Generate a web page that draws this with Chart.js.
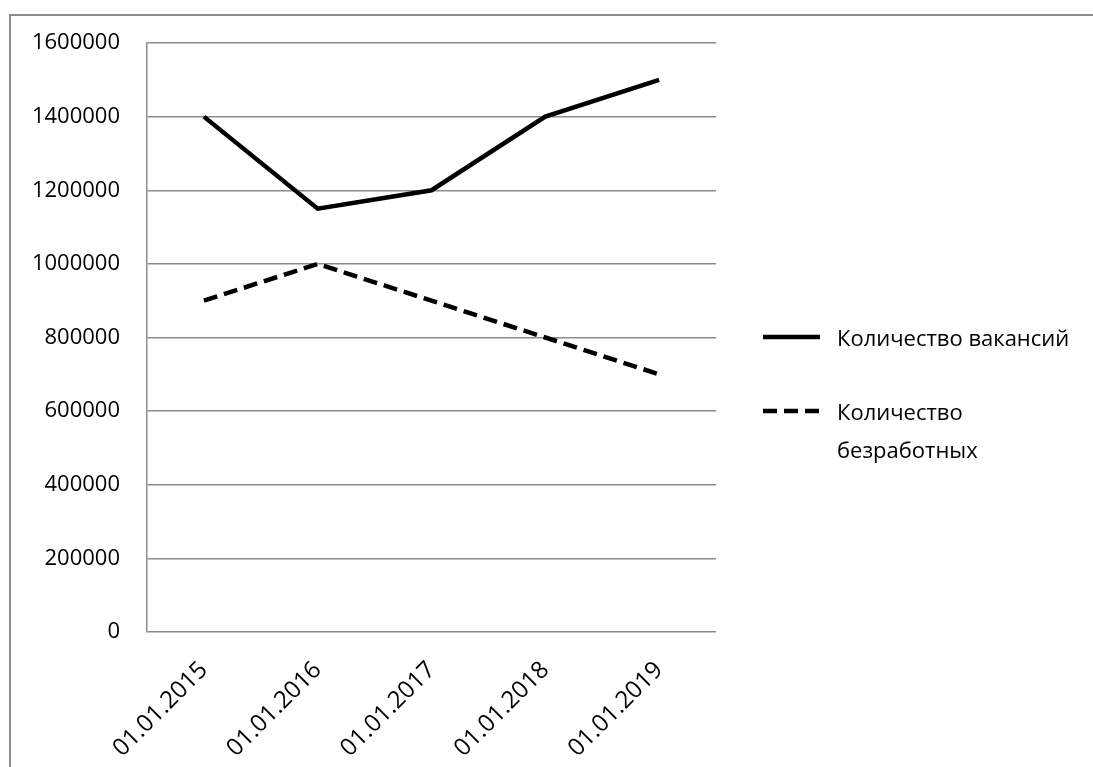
<!DOCTYPE html>
<html>
<head>
<meta charset="utf-8">
<script src="https://cdn.jsdelivr.net/npm/chart.js@4"></script>
<style>
  html, body { margin: 0; padding: 0; background: #fff; overflow: hidden; }
  #wrap { position: relative; width: 1093px; height: 767px; }
  #frame {
    position: absolute; left: 9px; top: 14px; width: 1200px; height: 900px;
    border: 2px solid #8c8c8c; box-sizing: border-box;
  }
  #chart { position: absolute; left: 0; top: 0; }
  #legend {
    position: absolute; left: 763px; top: 0;
    font-family: "Open Sans", sans-serif; font-size: 22px; font-weight: 500; color: #000;
  }
  .item { position: absolute; left: 0; display: flex; align-items: flex-start; }
  .item svg { flex: none; margin-right: 17px; }
  .item span { display: block; width: 245px; line-height: 38px; }
</style>
</head>
<body>
<div id="wrap">
  <div id="frame"></div>
  <canvas id="chart" width="1093" height="767"></canvas>
  <div id="legend"></div>
</div>
<script>
/* =========================
   DATA
========================= */
const categories = ["01.01.2015", "01.01.2016", "01.01.2017", "01.01.2018", "01.01.2019"];
const vacancies = [1400000, 1150000, 1200000, 1400000, 1500000];
const unemployed = [900000, 1000000, 900000, 800000, 700000];
const seriesNames = ["Количество вакансий", "Количество безработных"];

const FONT = "'Open Sans', sans-serif";
const GRID = "#8c8c8c";
const DASH = [14, 7];

/* =========================
   CHART
========================= */
new Chart(document.getElementById("chart"), {
  type: "line",
  data: {
    labels: categories,
    datasets: [
      {
        label: seriesNames[0],
        data: vacancies,
        borderColor: "#000",
        borderWidth: 4.5,
        pointRadius: 0,
        tension: 0,
      },
      {
        label: seriesNames[1],
        data: unemployed,
        borderColor: "#000",
        borderWidth: 4.5,
        borderDash: DASH,
        pointRadius: 0,
        tension: 0,
      },
    ],
  },
  options: {
    responsive: false,
    animation: false,
    layout: { padding: { top: 43, right: 377, bottom: 0, left: 0 } },
    plugins: { legend: { display: false }, tooltip: { enabled: false } },
    scales: {
      x: {
        offset: true,
        grid: { display: false, drawTicks: false },
        border: { display: false },
        ticks: {
          color: "#000",
          font: { family: FONT, size: 24, weight: 500 },
          minRotation: 45,
          maxRotation: 45,
          padding: 24,
        },
        afterFit: (scale) => { scale.height = 135; },
      },
      y: {
        min: 0,
        max: 1600000,
        grid: { color: GRID, lineWidth: 1.5, drawTicks: false },
        border: { display: true, color: GRID, width: 1.5 },
        ticks: {
          stepSize: 200000,
          color: "#000",
          font: { family: FONT, size: 22, weight: 500 },
          padding: 27,
          callback: (v) => String(v),
        },
        afterFit: (scale) => { scale.width = 147; },
      },
    },
  },
});

/* =========================
   LEGEND (HTML)
========================= */
const legend = document.getElementById("legend");
const legendTops = [318, 392];
seriesNames.forEach((name, i) => {
  const item = document.createElement("div");
  item.className = "item";
  item.style.top = legendTops[i] + "px";
  const dash = i === 1 ? `stroke-dasharray="${DASH.join(" ")}"` : "";
  item.innerHTML =
    `<svg width="57" height="38"><line x1="0" y1="19" x2="57" y2="19" stroke="#000" stroke-width="4.5" ${dash}/></svg>` +
    `<span>${name}</span>`;
  legend.appendChild(item);
});
</script>
</body>
</html>
